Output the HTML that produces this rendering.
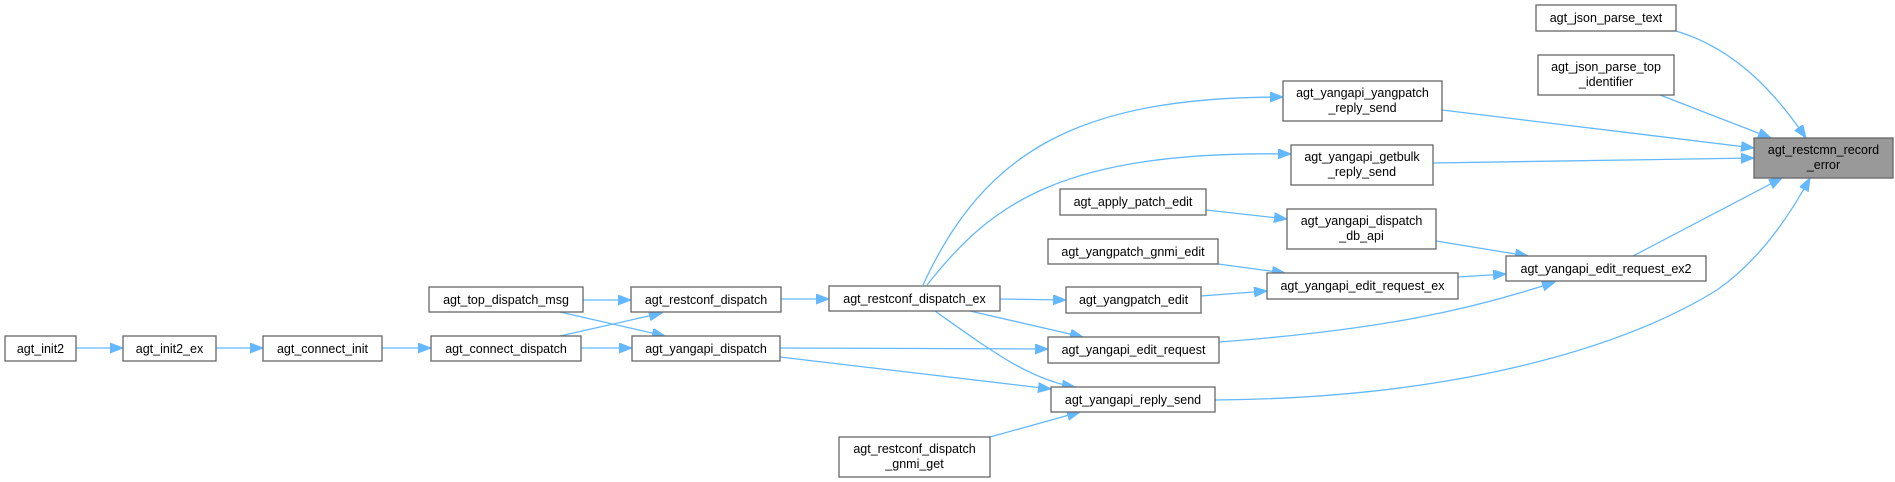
<!DOCTYPE html>
<html><head><meta charset="utf-8"><style>
html,body{margin:0;padding:0;background:#fff;}
svg{display:block;}
text{font-family:"Liberation Sans",Arial,sans-serif;font-size:12.5px;fill:#000;text-anchor:middle;}
.n{fill:#fff;stroke:#666;stroke-width:1.3;}
.e{fill:none;stroke:#63b8ff;stroke-width:1.3;marker-end:url(#a);}
</style></head><body>
<svg width="1895" height="482" viewBox="0 0 1895 482" xmlns="http://www.w3.org/2000/svg">
<defs><marker id="a" markerUnits="userSpaceOnUse" markerWidth="14" markerHeight="12" refX="13" refY="5" orient="auto"><path d="M0,0 L13,5 L0,10 Z" fill="#63b8ff" stroke="#63b8ff"/></marker></defs>

<!-- edges -->
<path class="e" d="M76,348 L123,348"/>
<path class="e" d="M216,348 L263,348"/>
<path class="e" d="M382,348 L431,348"/>
<path class="e" d="M581,348 L632,348"/>
<path class="e" d="M560,336 L662,313"/>
<path class="e" d="M583,300 L631,300"/>
<path class="e" d="M560,312 L665,336"/>
<path class="e" d="M781,299 L829,299"/>
<path class="e" d="M1000,299 L1066,300"/>
<path class="e" d="M970,311 L1083,337"/>
<path class="e" d="M935,311 C990,350 1030,380 1075,387"/>
<path class="e" d="M923,285 C985,150 1080,97 1283,97"/>
<path class="e" d="M927,285 C990,205 1060,150 1291,154"/>
<path class="e" d="M780,348 L1048,349"/>
<path class="e" d="M780,357 L1051,389"/>
<path class="e" d="M990,437 L1080,412"/>
<path class="e" d="M1206,210 L1287,219"/>
<path class="e" d="M1218,264 L1285,273"/>
<path class="e" d="M1201,296 L1267,291"/>
<path class="e" d="M1219,342 C1380,330 1470,310 1555,282"/>
<path class="e" d="M1458,277 L1506,274"/>
<path class="e" d="M1436,241 L1528,256"/>
<path class="e" d="M1633,256 L1782,178"/>
<path class="e" d="M1215,400 C1450,398 1620,350 1717,290 C1760,260 1790,215 1810,178"/>
<path class="e" d="M1442,110 L1754,148"/>
<path class="e" d="M1433,163 L1754,158"/>
<path class="e" d="M1660,95 L1771,138"/>
<path class="e" d="M1676,31 C1740,50 1780,100 1806,138"/>

<!-- nodes -->
<rect class="n" x="5" y="336" width="71" height="25"/><text x="40.5" y="353">agt_init2</text>
<rect class="n" x="123" y="336" width="93" height="25"/><text x="169.5" y="353">agt_init2_ex</text>
<rect class="n" x="263" y="336" width="119" height="25"/><text x="322.5" y="353">agt_connect_init</text>
<rect class="n" x="431" y="336" width="150" height="25"/><text x="506" y="353">agt_connect_dispatch</text>
<rect class="n" x="429" y="287" width="154" height="25"/><text x="506" y="304">agt_top_dispatch_msg</text>
<rect class="n" x="631" y="287" width="150" height="25"/><text x="706" y="304">agt_restconf_dispatch</text>
<rect class="n" x="632" y="336" width="148" height="25"/><text x="706" y="353">agt_yangapi_dispatch</text>
<rect class="n" x="829" y="286" width="171" height="25"/><text x="914.5" y="303">agt_restconf_dispatch_ex</text>
<rect class="n" x="839" y="437" width="151" height="40"/><text x="914.5" y="453">agt_restconf_dispatch</text><text x="914.5" y="468">_gnmi_get</text>
<rect class="n" x="1060" y="189" width="146" height="26"/><text x="1133" y="206">agt_apply_patch_edit</text>
<rect class="n" x="1048" y="239" width="170" height="25"/><text x="1133" y="256">agt_yangpatch_gnmi_edit</text>
<rect class="n" x="1066" y="287" width="135" height="26"/><text x="1133.5" y="304">agt_yangpatch_edit</text>
<rect class="n" x="1048" y="337" width="171" height="26"/><text x="1133.5" y="354">agt_yangapi_edit_request</text>
<rect class="n" x="1051" y="387" width="164" height="25"/><text x="1133" y="404">agt_yangapi_reply_send</text>
<rect class="n" x="1283" y="81" width="159" height="40"/><text x="1362.5" y="97">agt_yangapi_yangpatch</text><text x="1362.5" y="112">_reply_send</text>
<rect class="n" x="1291" y="145" width="142" height="40"/><text x="1362" y="161">agt_yangapi_getbulk</text><text x="1362" y="176">_reply_send</text>
<rect class="n" x="1287" y="209" width="149" height="40"/><text x="1361.5" y="225">agt_yangapi_dispatch</text><text x="1361.5" y="240">_db_api</text>
<rect class="n" x="1267" y="273" width="191" height="26"/><text x="1362.5" y="290">agt_yangapi_edit_request_ex</text>
<rect class="n" x="1506" y="256" width="200" height="25"/><text x="1606" y="273">agt_yangapi_edit_request_ex2</text>
<rect class="n" x="1536" y="5" width="140" height="26"/><text x="1606" y="22">agt_json_parse_text</text>
<rect class="n" x="1538" y="55" width="136" height="40"/><text x="1606" y="71">agt_json_parse_top</text><text x="1606" y="86">_identifier</text>
<rect x="1754" y="138" width="139" height="40" fill="#999" stroke="#666" stroke-width="1.3"/><text x="1823.5" y="154">agt_restcmn_record</text><text x="1823.5" y="169">_error</text>
</svg>
</body></html>
